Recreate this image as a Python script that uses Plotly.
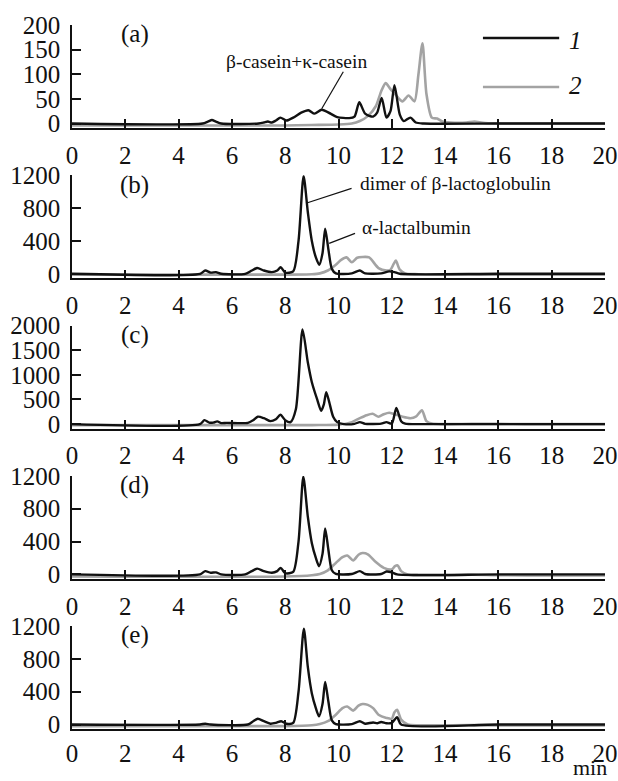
import plotly.graph_objects as go

# ---------------- data (retention time, min ; detector signal) ----------------
x_ticks = [0, 2, 4, 6, 8, 10, 12, 14, 16, 18, 20]
panel_labels = ["(a)", "(b)", "(c)", "(d)", "(e)"]
y_tick_sets = [
    [0, 50, 100, 150, 200],
    [0, 400, 800, 1200],
    [0, 500, 1000, 1500, 2000],
    [0, 400, 800, 1200],
    [0, 400, 800, 1200],
]
y_tops = [200, 1200, 2000, 1200, 1200]

# panel (a)
a1_x = [0, 4.9, 5.1, 5.25, 5.4, 5.6, 7.0, 7.2, 7.35, 7.5, 7.65, 7.82, 8.05, 8.3, 8.6, 8.87, 9.1, 9.37, 9.7, 9.95,
        10.4, 10.6, 10.78, 11.0, 11.3, 11.45, 11.62, 11.8, 11.95, 12.1, 12.3, 12.45, 12.7, 12.9, 13.2, 16, 20]
a1_y = [0, 0, 4, 7, 4, 0, 0, 2, 4, 2, 6, 12, 6, 12, 22, 27, 20, 28, 20, 13,
        11, 14, 43, 20, 14, 22, 52, 12, 25, 78, 18, 5, 12, 2, 0, 0, 0]
a2_x = [0, 5, 8, 9, 10, 10.5, 10.8, 11.1, 11.4, 11.6, 11.77, 11.95, 12.15, 12.4, 12.63, 12.85, 13.0, 13.15,
        13.3, 13.5, 13.7, 13.9, 14.2, 14.8, 15.1, 15.5, 17, 20]
a2_y = [-4, -4, -4, -3, -2, 0, 5, 15, 35, 65, 82, 70, 58, 45, 57, 45, 100, 163,
        60, 12, 10, 4, 2, 2, 4, 1, 0, 0]

# panel (b)
b1_x = [0, 4.8, 5.0, 5.2, 5.4, 5.6, 6.5, 6.75, 6.95, 7.2, 7.5, 7.7, 7.83, 8.0, 8.3, 8.5, 8.69, 8.85, 9.0,
        9.15, 9.28, 9.4, 9.5, 9.62, 9.75, 9.9, 10.5, 10.8, 11.0, 11.6, 11.9, 12.1, 12.3, 16, 20]
b1_y = [0, 0, 40, 15, 20, 0, 0, 40, 70, 40, 20, 40, 80, 15, 30, 400, 1190, 750, 400,
        200, 110, 250, 550, 300, 60, 5, 5, 40, 5, 5, 30, 20, 0, 0, 0]
b2_x = [0, 8.0, 9.0, 9.3, 9.6, 9.9, 10.1, 10.3, 10.5, 10.7, 10.9, 11.15, 11.5, 11.8, 11.95, 12.07, 12.15,
        12.3, 12.5, 13, 16, 20]
b2_y = [-10, -10, -5, 5, 40, 110, 170, 200, 140, 195, 205, 200, 70, 40, 50, 120, 160, 50, 5, -5, -10, -10]

# panel (c)
c1_x = [0, 4.8, 4.97, 5.15, 5.3, 5.45, 5.6, 5.8, 6.6, 6.8, 6.97, 7.2, 7.45, 7.65, 7.82, 8.0, 8.2, 8.4, 8.65,
        8.85, 9.0, 9.2, 9.35, 9.45, 9.54, 9.65, 9.8, 9.95, 10.2, 10.6, 10.8, 11.0, 11.6, 11.8, 12.0, 12.17,
        12.35, 12.5, 13.3, 16, 20]
c1_y = [0, 0, 80, 30, 30, 55, 20, 25, 25, 80, 150, 120, 60, 100, 190, 80, 40, 300, 1920,
        1250, 850, 500, 270, 400, 650, 450, 150, 40, 0, 5, 40, 5, 10, 40, 10, 330,
        60, 10, 0, 0, 0]
c2_x = [0, 9, 10, 10.5, 10.8, 11.05, 11.28, 11.5, 11.7, 11.9, 12.1, 12.4, 12.7, 12.9, 13.13, 13.3, 13.5,
        14, 15, 16, 17, 20]
c2_y = [-20, -20, -10, 40, 120, 180, 210, 150, 200, 230, 200, 150, 120, 150, 280, 60, 10,
        0, 5, 5, 0, 0]

# panel (d)
d1_x = [0, 4.8, 5.0, 5.2, 5.4, 5.6, 6.5, 6.75, 6.95, 7.2, 7.5, 7.7, 7.83, 8.0, 8.3, 8.5, 8.68, 8.85, 9.0,
        9.15, 9.27, 9.4, 9.5, 9.62, 9.75, 9.9, 10.5, 10.8, 11.0, 11.6, 11.8, 12.0, 12.2, 16, 20]
d1_y = [0, 0, 40, 20, 25, 0, 0, 40, 70, 40, 20, 40, 80, 15, 30, 400, 1190, 700, 380,
        200, 100, 250, 560, 300, 50, 5, 5, 40, 5, 5, 35, 25, 0, 0, 0]
d2_x = [0, 8.0, 9.0, 9.3, 9.6, 9.9, 10.15, 10.33, 10.55, 10.75, 10.9, 11.1, 11.4, 11.7, 12.0, 12.12, 12.22,
        12.35, 12.6, 13, 14, 15, 16, 18, 20]
d2_y = [-25, -25, -10, 5, 50, 140, 210, 230, 170, 240, 260, 245, 150, 80, 60, 100, 110,
        40, 0, -10, -10, -5, -10, -12, -12]

# panel (e)
e1_x = [0, 4.8, 5.0, 5.2, 6.6, 6.8, 6.97, 7.2, 7.45, 7.65, 7.85, 8.05, 8.3, 8.5, 8.7, 8.85, 9.0, 9.15, 9.27,
        9.4, 9.5, 9.62, 9.75, 9.9, 10.5, 10.8, 11.0, 11.3, 11.45, 11.6, 11.8, 12.0, 12.2, 12.35, 16, 20]
e1_y = [0, 0, 10, 0, 0, 40, 70, 40, 10, 20, 40, 10, 20, 400, 1170, 700, 380, 200, 100,
        250, 520, 280, 50, 5, 5, 40, 10, 25, 15, 30, 15, 20, 90, 0, 0, 0]
e2_x = [0, 8.0, 9.0, 9.3, 9.6, 9.9, 10.15, 10.33, 10.55, 10.75, 10.9, 11.1, 11.3, 11.5, 11.8, 12.0, 12.1,
        12.2, 12.35, 12.6, 13, 15, 17, 20]
e2_y = [-20, -20, -10, 5, 40, 120, 200, 220, 170, 230, 250, 240, 200, 120, 80, 70, 150,
        180, 60, 0, -10, -8, -12, -12]

series1 = [(a1_x, a1_y), (b1_x, b1_y), (c1_x, c1_y), (d1_x, d1_y), (e1_x, e1_y)]
series2 = [(a2_x, a2_y), (b2_x, b2_y), (c2_x, c2_y), (d2_x, d2_y), (e2_x, e2_y)]
legend_names = ["1", "2"]

# ---------------- layout geometry ----------------
W, H = 618, 781
ML, MR, MT, MB = 72, 13, 25, 52
plot_h = H - MT - MB
panel_step = 150.3
panel_h = 103

FONT = "Liberation Serif, Times New Roman, Times, DejaVu Serif, serif"
BIG = 25
SMALL = 19.5
BLACK = "#111111"
GRAY = "#a3a3a3"

fig = go.Figure()
layout = dict(
    width=W, height=H,
    margin=dict(l=ML, r=MR, t=MT, b=MB),
    paper_bgcolor="white", plot_bgcolor="white",
    showlegend=False,
    font=dict(family=FONT, size=BIG, color=BLACK),
)

annotations = []
shapes = []
for k in range(5):
    top_px = MT + panel_step * k
    bot_px = top_px + panel_h
    y0 = max(0.0, min(1.0, (H - MB - bot_px) / plot_h))
    y1 = max(0.0, min(1.0, (H - MB - top_px) / plot_h))
    sfx = "" if k == 0 else str(k + 1)
    xa, ya = "x" + sfx, "y" + sfx
    top = y_tops[k]
    ymin = -top * 4.5 / 98.5

    fig.add_trace(go.Scatter(x=series2[k][0], y=series2[k][1], mode="lines", name=legend_names[1],
                             line=dict(color=GRAY, width=2.6, shape="spline", smoothing=0.7),
                             xaxis=xa, yaxis=ya))
    fig.add_trace(go.Scatter(x=series1[k][0], y=series1[k][1], mode="lines", name=legend_names[0],
                             line=dict(color=BLACK, width=2.4, shape="spline", smoothing=0.7),
                             xaxis=xa, yaxis=ya))

    layout["xaxis" + sfx] = dict(
        domain=[0, 1], anchor=ya, range=[0, 20], tickvals=x_ticks,
        showline=True, linecolor=BLACK, linewidth=1.5, showgrid=False, zeroline=False,
        ticks="inside", ticklen=9, tickwidth=1.5, tickcolor=BLACK, automargin=False,
        ticklabelstandoff=(1 if k == 4 else 4), tickfont=dict(family=FONT, size=BIG, color=BLACK),
    )
    layout["yaxis" + sfx] = dict(
        domain=[y0, y1], anchor=xa, range=[ymin, top], tickvals=y_tick_sets[k],
        showline=True, linecolor=BLACK, linewidth=1.5, showgrid=False, zeroline=False,
        ticks="inside", ticklen=9, tickwidth=1.5, tickcolor=BLACK, automargin=False,
        ticklabelstandoff=5, tickfont=dict(family=FONT, size=BIG, color=BLACK),
    )
    annotations.append(dict(text=panel_labels[k], xref=xa + " domain", yref=ya + " domain",
                            x=0.118, y=0.91, showarrow=False, xanchor="center", yanchor="middle",
                            font=dict(family=FONT, size=BIG, color=BLACK)))

# legend (drawn in panel a)
shapes.append(dict(type="line", xref="x domain", yref="y domain", x0=0.771, x1=0.914, y0=0.874, y1=0.874,
                   line=dict(color=BLACK, width=2.4)))
shapes.append(dict(type="line", xref="x domain", yref="y domain", x0=0.771, x1=0.914, y0=0.398, y1=0.398,
                   line=dict(color=GRAY, width=2.6)))
annotations.append(dict(text="<i>" + legend_names[0] + "</i>", xref="x domain", yref="y domain",
                        x=0.945, y=0.845, showarrow=False, xanchor="center", yanchor="middle",
                        font=dict(family=FONT, size=BIG, color=BLACK)))
annotations.append(dict(text="<i>" + legend_names[1] + "</i>", xref="x domain", yref="y domain",
                        x=0.945, y=0.408, showarrow=False, xanchor="center", yanchor="middle",
                        font=dict(family=FONT, size=BIG, color=BLACK)))

# peak labels
annotations.append(dict(text="β-casein+κ-casein", xref="x", yref="y", x=8.42, y=125, showarrow=False,
                        xanchor="center", yanchor="middle", font=dict(family=FONT, size=SMALL, color=BLACK)))
shapes.append(dict(type="line", xref="x", yref="y", x0=10.18, y0=105, x1=9.37, y1=30,
                   line=dict(color=BLACK, width=1.2)))
annotations.append(dict(text="dimer of β-lactoglobulin", xref="x2", yref="y2", x=10.73, y=1094,
                        showarrow=False, xanchor="left", yanchor="middle",
                        font=dict(family=FONT, size=SMALL, color=BLACK)))
shapes.append(dict(type="line", xref="x2", yref="y2", x0=10.49, y0=1041, x1=8.78, y1=860,
                   line=dict(color=BLACK, width=1.2)))
annotations.append(dict(text="α-lactalbumin", xref="x2", yref="y2", x=10.8, y=558,
                        showarrow=False, xanchor="left", yanchor="middle",
                        font=dict(family=FONT, size=SMALL, color=BLACK)))
shapes.append(dict(type="line", xref="x2", yref="y2", x0=10.62, y0=493, x1=9.65, y1=371,
                   line=dict(color=BLACK, width=1.2)))

# axis unit
annotations.append(dict(text="min", xref="paper", yref="paper", x=0.972, y=(H - MB - H) / plot_h,
                        showarrow=False, xanchor="center", yanchor="bottom", borderpad=0,
                        font=dict(family=FONT, size=22, color=BLACK)))

layout["annotations"] = annotations
layout["shapes"] = shapes
fig.update_layout(**layout)
fig.write_html("out.html", config={"displayModeBar": False},
               post_script="document.body.style.margin='0px';")
